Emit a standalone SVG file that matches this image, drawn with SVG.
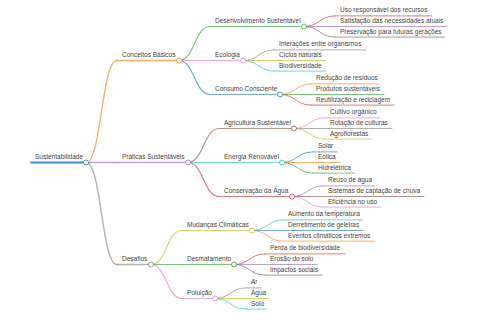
<svg xmlns="http://www.w3.org/2000/svg" width="480" height="320" viewBox="0 0 480 320">
<style>
text{font-family:"Liberation Sans",Arial,sans-serif;font-size:6.5px;fill:#444}
line,path{fill:none;stroke-linecap:round;stroke-opacity:.62}
circle{fill:#fff;stroke-width:1;stroke-opacity:.75}
.d0{stroke-width:2;stroke-opacity:.85}.d1{stroke-width:1.4}.d2{stroke-width:1.2}.d3{stroke-width:1}
.blue{stroke:#1f77b4}.orange{stroke:#ff7f0e}.green{stroke:#2ca02c}.red{stroke:#d62728}.purple{stroke:#9467bd}.brown{stroke:#8c564b}.pink{stroke:#e377c2}.gray{stroke:#7f7f7f}.olive{stroke:#bcbd22}.cyan{stroke:#17becf}
</style>
<g id="connectors">
<path class="d1 orange" d="M86 162.5C101.5 162.5 101.5 60.5 117 60.5"/>
<path class="d1 purple" d="M86 162.5L117 162.5"/>
<path class="d1 gray" d="M86 162.5C101.5 162.5 101.5 264.5 117 264.5"/>
<path class="d2 green" d="M179 60.5C194.5 60.5 194.5 26.5 210 26.5"/>
<path class="d2 pink" d="M179 60.5L210 60.5"/>
<path class="d2 blue" d="M179 60.5C194.5 60.5 194.5 94.5 210 94.5"/>
<path class="d2 brown" d="M188 162.5C203.5 162.5 203.5 128.5 219 128.5"/>
<path class="d2 cyan" d="M188 162.5L219 162.5"/>
<path class="d2 red" d="M188 162.5C203.5 162.5 203.5 196.5 219 196.5"/>
<path class="d2 olive" d="M151 264.5C166.5 264.5 166.5 230.5 182 230.5"/>
<path class="d2 green" d="M151 264.5L182 264.5"/>
<path class="d2 pink" d="M151 264.5C166.5 264.5 166.5 298.5 182 298.5"/>
<path class="d3 red" d="M304 26.5C319.5 26.5 319.5 15.9 335 15.9"/>
<path class="d3 purple" d="M304 26.5L335 26.5"/>
<path class="d3 brown" d="M304 26.5C319.5 26.5 319.5 37.1 335 37.1"/>
<path class="d3 gray" d="M243 60.5C258.5 60.5 258.5 49.9 274 49.9"/>
<path class="d3 olive" d="M243 60.5L274 60.5"/>
<path class="d3 cyan" d="M243 60.5C258.5 60.5 258.5 71.1 274 71.1"/>
<path class="d3 orange" d="M280 94.5C295.5 94.5 295.5 83.9 311 83.9"/>
<path class="d3 green" d="M280 94.5L311 94.5"/>
<path class="d3 red" d="M280 94.5C295.5 94.5 295.5 105.1 311 105.1"/>
<path class="d3 pink" d="M294 128.5C309.5 128.5 309.5 117.9 325 117.9"/>
<path class="d3 gray" d="M294 128.5L325 128.5"/>
<path class="d3 olive" d="M294 128.5C309.5 128.5 309.5 139.1 325 139.1"/>
<path class="d3 blue" d="M282 162.5C297.5 162.5 297.5 151.9 313 151.9"/>
<path class="d3 orange" d="M282 162.5L313 162.5"/>
<path class="d3 green" d="M282 162.5C297.5 162.5 297.5 173.1 313 173.1"/>
<path class="d3 purple" d="M292 196.5C307.5 196.5 307.5 185.9 323 185.9"/>
<path class="d3 brown" d="M292 196.5L323 196.5"/>
<path class="d3 pink" d="M292 196.5C307.5 196.5 307.5 207.1 323 207.1"/>
<path class="d3 cyan" d="M252 230.5C267.5 230.5 267.5 219.9 283 219.9"/>
<path class="d3 blue" d="M252 230.5L283 230.5"/>
<path class="d3 orange" d="M252 230.5C267.5 230.5 267.5 241.1 283 241.1"/>
<path class="d3 red" d="M234 264.5C249.5 264.5 249.5 253.9 265 253.9"/>
<path class="d3 purple" d="M234 264.5L265 264.5"/>
<path class="d3 brown" d="M234 264.5C249.5 264.5 249.5 275.1 265 275.1"/>
<path class="d3 gray" d="M215 298.5C230.5 298.5 230.5 287.9 246 287.9"/>
<path class="d3 olive" d="M215 298.5L246 298.5"/>
<path class="d3 cyan" d="M215 298.5C230.5 298.5 230.5 309.1 246 309.1"/>
</g>
<g id="n-root"><line class="d0 blue" x1="31" y1="162.5" x2="83.5" y2="162.5"/><circle class="blue" cx="86" cy="162.5" r="2.5"/><text x="35" y="159">Sustentabilidade</text></g>
<g id="n-conceitos"><line class="d1 orange" x1="117" y1="60.5" x2="176.5" y2="60.5"/><circle class="orange" cx="179" cy="60.5" r="2.5"/><text x="122" y="57">Conceitos Básicos</text></g>
<g id="n-praticas"><line class="d1 purple" x1="117" y1="162.5" x2="185.5" y2="162.5"/><circle class="purple" cx="188" cy="162.5" r="2.5"/><text x="122" y="159">Práticas Sustentáveis</text></g>
<g id="n-desafios"><line class="d1 gray" x1="117" y1="264.5" x2="148.5" y2="264.5"/><circle class="gray" cx="151" cy="264.5" r="2.5"/><text x="122" y="261">Desafios</text></g>
<g id="n-desenvolvimento"><line class="d2 green" x1="210" y1="26.5" x2="301.5" y2="26.5"/><circle class="green" cx="304" cy="26.5" r="2.5"/><text x="215" y="23">Desenvolvimento Sustentável</text></g>
<g id="n-ecologia"><line class="d2 pink" x1="210" y1="60.5" x2="240.5" y2="60.5"/><circle class="pink" cx="243" cy="60.5" r="2.5"/><text x="215" y="57">Ecologia</text></g>
<g id="n-consumo"><line class="d2 blue" x1="210" y1="94.5" x2="277.5" y2="94.5"/><circle class="blue" cx="280" cy="94.5" r="2.5"/><text x="215" y="91">Consumo Consciente</text></g>
<g id="n-agricultura"><line class="d2 brown" x1="219" y1="128.5" x2="291.5" y2="128.5"/><circle class="brown" cx="294" cy="128.5" r="2.5"/><text x="224" y="125">Agricultura Sustentável</text></g>
<g id="n-energia"><line class="d2 cyan" x1="219" y1="162.5" x2="279.5" y2="162.5"/><circle class="cyan" cx="282" cy="162.5" r="2.5"/><text x="224" y="159">Energia Renovável</text></g>
<g id="n-conservacao"><line class="d2 red" x1="219" y1="196.5" x2="289.5" y2="196.5"/><circle class="red" cx="292" cy="196.5" r="2.5"/><text x="224" y="193">Conservação da Água</text></g>
<g id="n-mudancas"><line class="d2 olive" x1="182" y1="230.5" x2="249.5" y2="230.5"/><circle class="olive" cx="252" cy="230.5" r="2.5"/><text x="187" y="227">Mudanças Climáticas</text></g>
<g id="n-desmatamento"><line class="d2 green" x1="182" y1="264.5" x2="231.5" y2="264.5"/><circle class="green" cx="234" cy="264.5" r="2.5"/><text x="187" y="261">Desmatamento</text></g>
<g id="n-poluicao"><line class="d2 pink" x1="182" y1="298.5" x2="212.5" y2="298.5"/><circle class="pink" cx="215" cy="298.5" r="2.5"/><text x="187" y="295">Poluição</text></g>
<g id="n-uso"><line class="d3 red" x1="335" y1="15.9" x2="432" y2="15.9"/><text x="340" y="12.4">Uso responsável dos recursos</text></g>
<g id="n-satisfacao"><line class="d3 purple" x1="335" y1="26.5" x2="447" y2="26.5"/><text x="340" y="23">Satisfação das necessidades atuais</text></g>
<g id="n-preservacao"><line class="d3 brown" x1="335" y1="37.1" x2="445" y2="37.1"/><text x="340" y="33.6">Preservação para futuras gerações</text></g>
<g id="n-interacoes"><line class="d3 gray" x1="274" y1="49.9" x2="366" y2="49.9"/><text x="279" y="46.4">Interações entre organismos</text></g>
<g id="n-ciclos"><line class="d3 olive" x1="274" y1="60.5" x2="326" y2="60.5"/><text x="279" y="57">Ciclos naturais</text></g>
<g id="n-biodiversidade"><line class="d3 cyan" x1="274" y1="71.1" x2="326" y2="71.1"/><text x="279" y="67.6">Biodiversidade</text></g>
<g id="n-reducao"><line class="d3 orange" x1="311" y1="83.9" x2="379" y2="83.9"/><text x="316" y="80.4">Redução de resíduos</text></g>
<g id="n-produtos"><line class="d3 green" x1="311" y1="94.5" x2="384" y2="94.5"/><text x="316" y="91">Produtos sustentáveis</text></g>
<g id="n-reutilizacao"><line class="d3 red" x1="311" y1="105.1" x2="394" y2="105.1"/><text x="316" y="101.6">Reutilização e reciclagem</text></g>
<g id="n-cultivo"><line class="d3 pink" x1="325" y1="117.9" x2="380" y2="117.9"/><text x="330" y="114.4">Cultivo orgânico</text></g>
<g id="n-rotacao"><line class="d3 gray" x1="325" y1="128.5" x2="392" y2="128.5"/><text x="330" y="125">Rotação de culturas</text></g>
<g id="n-agroflorestas"><line class="d3 olive" x1="325" y1="139.1" x2="372" y2="139.1"/><text x="330" y="135.6">Agroflorestas</text></g>
<g id="n-solar"><line class="d3 blue" x1="313" y1="151.9" x2="337" y2="151.9"/><text x="318" y="148.4">Solar</text></g>
<g id="n-eolica"><line class="d3 orange" x1="313" y1="162.5" x2="340" y2="162.5"/><text x="318" y="159">Eólica</text></g>
<g id="n-hidreletrica"><line class="d3 green" x1="313" y1="173.1" x2="355" y2="173.1"/><text x="318" y="169.6">Hidrelétrica</text></g>
<g id="n-reuso"><line class="d3 purple" x1="323" y1="185.9" x2="375" y2="185.9"/><text x="328" y="182.4">Reuso de água</text></g>
<g id="n-sistemas"><line class="d3 brown" x1="323" y1="196.5" x2="424" y2="196.5"/><text x="328" y="193">Sistemas de captação de chuva</text></g>
<g id="n-eficiencia"><line class="d3 pink" x1="323" y1="207.1" x2="381" y2="207.1"/><text x="328" y="203.6">Eficiência no uso</text></g>
<g id="n-aumento"><line class="d3 cyan" x1="283" y1="219.9" x2="363" y2="219.9"/><text x="288" y="216.4">Aumento da temperatura</text></g>
<g id="n-derretimento"><line class="d3 blue" x1="283" y1="230.5" x2="363" y2="230.5"/><text x="288" y="227">Derretimento de geleiras</text></g>
<g id="n-eventos"><line class="d3 orange" x1="283" y1="241.1" x2="375" y2="241.1"/><text x="288" y="237.6">Eventos climáticos extremos</text></g>
<g id="n-perda"><line class="d3 red" x1="265" y1="253.9" x2="345" y2="253.9"/><text x="270" y="250.4">Perda de biodiversidade</text></g>
<g id="n-erosao"><line class="d3 purple" x1="265" y1="264.5" x2="317" y2="264.5"/><text x="270" y="261">Erosão do solo</text></g>
<g id="n-impactos"><line class="d3 brown" x1="265" y1="275.1" x2="322" y2="275.1"/><text x="270" y="271.6">Impactos sociais</text></g>
<g id="n-ar"><line class="d3 gray" x1="246" y1="287.9" x2="261" y2="287.9"/><text x="251" y="284.4">Ar</text></g>
<g id="n-agua"><line class="d3 olive" x1="246" y1="298.5" x2="269" y2="298.5"/><text x="251" y="295">Água</text></g>
<g id="n-solo"><line class="d3 cyan" x1="246" y1="309.1" x2="267" y2="309.1"/><text x="251" y="305.6">Solo</text></g>
</svg>
